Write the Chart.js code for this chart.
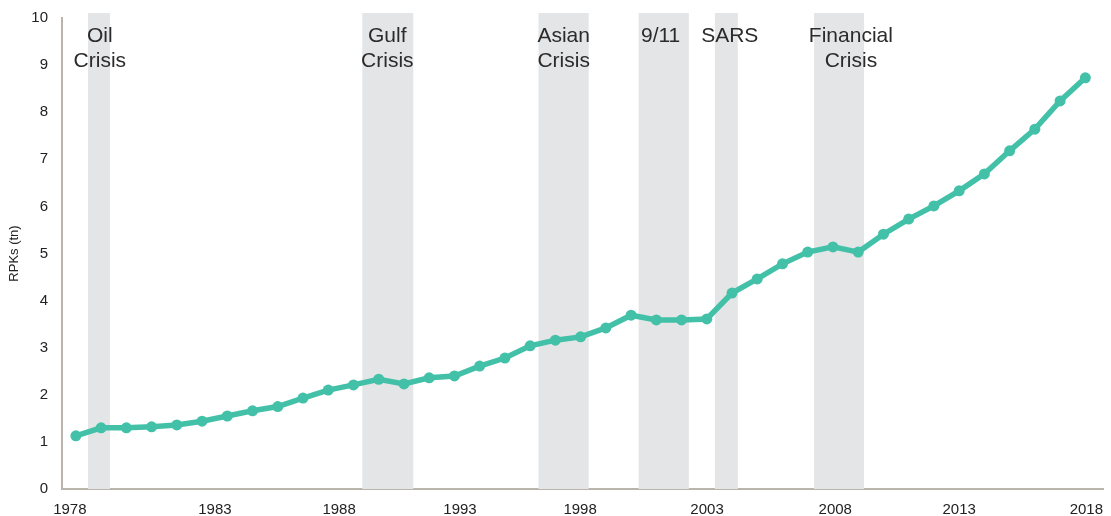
<!DOCTYPE html>
<html>
<head>
<meta charset="utf-8">
<script src="https://cdn.jsdelivr.net/npm/chart.js@4"></script>
<style>
  html, body { margin: 0; padding: 0; background: #fff; }
  #wrap { width: 1111px; height: 516px; position: relative; }
</style>
</head>
<body>
<div id="wrap"><canvas id="rpkChart"></canvas></div>
<script>
// ---- data ----
const years = [];
for (let y = 1978; y <= 2018; y++) years.push(y);

const rpks = [
  1.13, 1.30, 1.30, 1.32, 1.36, 1.44, 1.55, 1.66, 1.75, 1.93,
  2.10, 2.21, 2.33, 2.23, 2.36, 2.40, 2.61, 2.78, 3.04, 3.16,
  3.23, 3.42, 3.69, 3.59, 3.59, 3.61, 4.16, 4.46, 4.78, 5.03,
  5.14, 5.03, 5.41, 5.73, 6.01, 6.33, 6.69, 7.18, 7.64, 8.24,
  8.73
];

// tick labels sit a little off their years in the original, keep that
const xTickLabels = ['1978', '1983', '1988', '1993', '1998', '2003', '2008', '2013', '2018'];
const xTickPos    = [1977.76, 1983.51, 1988.43, 1993.22, 1997.98, 2003.01, 2008.09, 2013.0, 2018.04];
const yTicks = [0, 1, 2, 3, 4, 5, 6, 7, 8, 9, 10];

// crisis shading: start / end year, label centre and label lines
const crisisStart = [1978.48, 1989.35, 1996.33, 2000.30, 2003.32, 2007.25];
const crisisEnd   = [1979.35, 1991.37, 1998.32, 2002.29, 2004.23, 2009.23];
const crisisMid   = [1978.95, 1990.34, 1997.33, 2001.17, 2003.91, 2008.71];
const crisisLabel = [
  ['Oil', 'Crisis'],
  ['Gulf', 'Crisis'],
  ['Asian', 'Crisis'],
  ['9/11'],
  ['SARS'],
  ['Financial', 'Crisis']
];

const TEAL = '#43c1a8';
const AXIS = '#b9b5ab';
const FONT = "'Liberation Sans', Arial, sans-serif";

// ---- shaded bands + labels ----
const crisisBands = {
  id: 'crisisBands',
  beforeDatasetsDraw(chart) {
    const { ctx, scales: { x, y } } = chart;
    const top = y.getPixelForValue(10) - 5;
    const bottom = y.getPixelForValue(0);
    ctx.save();
    ctx.fillStyle = '#e4e5e7';
    crisisStart.forEach((s, i) => {
      const x1 = x.getPixelForValue(s);
      const x2 = x.getPixelForValue(crisisEnd[i]);
      ctx.fillRect(x1, top, x2 - x1, bottom - top);
    });
    ctx.fillStyle = '#2b2b2b';
    ctx.font = '21px ' + FONT;
    ctx.textAlign = 'center';
    ctx.textBaseline = 'alphabetic';
    crisisMid.forEach((m, i) => {
      const cx = x.getPixelForValue(m);
      crisisLabel[i].forEach((line, k) => {
        ctx.fillText(line, cx, top + 29 + k * 25);
      });
    });
    ctx.restore();
  }
};

const ctx = document.getElementById('rpkChart');
new Chart(ctx, {
  type: 'line',
  data: {
    datasets: [{
      data: years.map((yr, i) => ({ x: yr, y: rpks[i] })),
      borderColor: TEAL,
      backgroundColor: TEAL,
      pointBackgroundColor: TEAL,
      pointBorderWidth: 0,
      pointRadius: 5.5,
      borderWidth: 5.5,
      tension: 0
    }]
  },
  options: {
    responsive: true,
    maintainAspectRatio: false,
    animation: false,
    layout: { padding: { top: 18, right: 8, left: 7, bottom: -15 } },
    plugins: { legend: { display: false }, tooltip: { enabled: false } },
    scales: {
      x: {
        type: 'linear',
        min: 1977.45,
        max: 2018.7,
        afterBuildTicks: (axis) => { axis.ticks = xTickPos.map(v => ({ value: v })); },
        afterFit: (axis) => { axis.paddingLeft = 0; axis.paddingRight = 0; },
        grid: { display: false, drawTicks: false },
        border: { color: AXIS, width: 2 },
        ticks: {
          color: '#222',
          font: { family: FONT, size: 15 },
          padding: 12,
          maxRotation: 0,
          callback: (v, i) => xTickLabels[i]
        }
      },
      y: {
        min: 0,
        max: 10,
        afterBuildTicks: (axis) => { axis.ticks = yTicks.map(v => ({ value: v })); },
        afterFit: (axis) => { axis.width = 55; axis.paddingTop = 0; axis.paddingBottom = 0; },
        grid: { display: false, drawTicks: false },
        border: { color: AXIS, width: 2 },
        title: {
          display: true,
          text: 'RPKs (tn)',
          color: '#222',
          font: { family: FONT, size: 13 },
          padding: { top: 0, bottom: 4 }
        },
        ticks: {
          color: '#222',
          font: { family: FONT, size: 15 },
          padding: 14
        }
      }
    }
  },
  plugins: [crisisBands]
});
</script>
</body>
</html>
